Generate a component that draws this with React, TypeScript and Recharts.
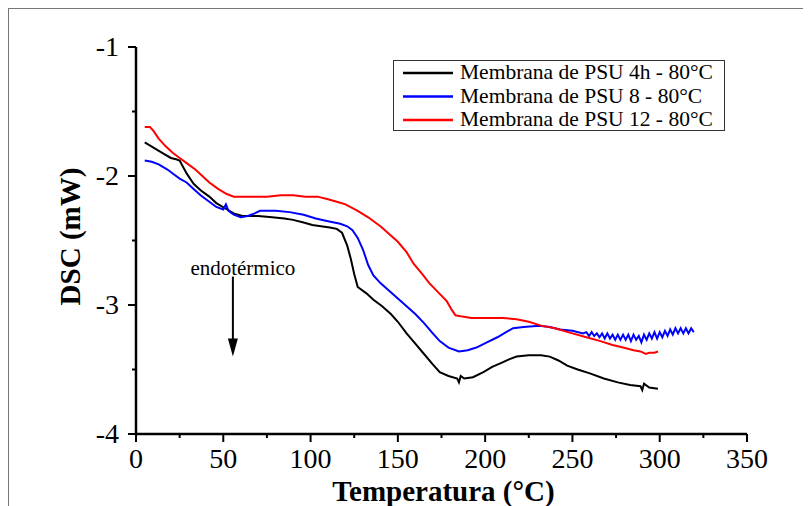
import React from "react";
import { LineChart, Line, XAxis, YAxis, Legend, ReferenceLine } from "recharts";

const FONT = "Liberation Serif, Times New Roman, DejaVu Serif, serif";

const seriesNames = [
  "Membrana de PSU 4h - 80°C",
  "Membrana de PSU 8 - 80°C",
  "Membrana de PSU 12 - 80°C",
];
const seriesColors = ["#000000", "#0000ff", "#ff0000"];

const xTicks = [0, 25, 50, 75, 100, 125, 150, 175, 200, 225, 250, 275, 300, 325, 350];
const yTicks = [-4, -3.5, -3, -2.5, -2, -1.5, -1];

const psu4h: [number, number][] = [
  [5, -1.74], [10, -1.78], [15, -1.82], [20, -1.86], [23, -1.87], [25, -1.88], [29, -1.98],
  [33, -2.06], [37, -2.11], [42, -2.16], [46, -2.21], [51, -2.25], [56, -2.29], [61, -2.31],
  [70, -2.31], [78, -2.32], [85, -2.33], [90, -2.34], [96, -2.36], [101, -2.38], [106, -2.39],
  [111, -2.4], [115, -2.41], [118, -2.44], [121, -2.54], [123, -2.64], [125, -2.76], [127, -2.86],
  [132, -2.91], [136, -2.96], [141, -3.01], [146, -3.07], [150, -3.13], [155, -3.22], [160, -3.3],
  [165, -3.38], [170, -3.46], [174, -3.52], [179, -3.55], [184, -3.57], [185, -3.6], [186, -3.55],
  [188, -3.57], [193, -3.56], [199, -3.52], [204, -3.48], [209, -3.45], [214, -3.42], [218, -3.4],
  [225, -3.39], [232, -3.39], [237, -3.4], [242, -3.43], [247, -3.47], [253, -3.5], [260, -3.53],
  [268, -3.57], [276, -3.6], [283, -3.62], [289, -3.63], [290, -3.66], [291, -3.61], [294, -3.64],
  [299, -3.65],
];

const psu8: [number, number][] = [
  [5, -1.88], [9, -1.89], [13, -1.91], [18, -1.95], [22, -1.99], [25, -2.02], [29, -2.05],
  [33, -2.1], [37, -2.15], [42, -2.2], [46, -2.24], [50, -2.26], [51.5, -2.22], [53, -2.27],
  [56, -2.3], [60, -2.32], [64, -2.31], [68, -2.29], [71, -2.27], [80, -2.27], [88, -2.28],
  [96, -2.3], [103, -2.33], [110, -2.35], [117, -2.37], [121, -2.39], [124, -2.42], [127, -2.48],
  [130, -2.57], [133, -2.69], [136, -2.77], [140, -2.83], [145, -2.89], [150, -2.95], [155, -3.01],
  [160, -3.07], [165, -3.14], [170, -3.22], [174, -3.28], [179, -3.33], [185, -3.36], [190, -3.35],
  [195, -3.33], [201, -3.29], [207, -3.25], [212, -3.21], [216, -3.18], [222, -3.17], [231, -3.16],
  [237, -3.17], [243, -3.19], [250, -3.2], [256, -3.22],
  [258, -3.21], [259.5, -3.24], [261, -3.21], [262.5, -3.24], [264, -3.22], [265.5, -3.25],
  [267, -3.22], [268.5, -3.26], [270, -3.22], [271.5, -3.26], [273, -3.23], [274.5, -3.27],
  [276, -3.23], [277.5, -3.27], [279, -3.23], [280.5, -3.27], [282, -3.23], [283.5, -3.28],
  [285, -3.23], [286.5, -3.27], [288, -3.24], [289.5, -3.29], [291, -3.23], [292.5, -3.27],
  [294, -3.22], [295.5, -3.26], [297, -3.21], [298.5, -3.26], [300, -3.21], [301.5, -3.25],
  [303, -3.2], [304.5, -3.24], [306, -3.19], [307.5, -3.23], [309, -3.18], [310.5, -3.22],
  [312, -3.18], [313.5, -3.22], [315, -3.18], [316.5, -3.22], [318, -3.18], [319.5, -3.21],
];

const psu12: [number, number][] = [
  [5, -1.62], [8, -1.62], [10, -1.65], [13, -1.71], [17, -1.77], [21, -1.82], [25, -1.86],
  [29, -1.9], [34, -1.95], [38, -2.0], [42, -2.05], [47, -2.1], [52, -2.14], [56, -2.16],
  [60, -2.16], [67, -2.16], [75, -2.16], [83, -2.15], [90, -2.15], [97, -2.16], [104, -2.16],
  [110, -2.18], [115, -2.2], [120, -2.22], [127, -2.27], [133, -2.32], [140, -2.39], [145, -2.45],
  [150, -2.51], [155, -2.59], [159, -2.68], [164, -2.76], [168, -2.83], [173, -2.9], [178, -2.97],
  [181, -3.04], [183, -3.08], [187, -3.09], [192, -3.1], [198, -3.1], [204, -3.1], [210, -3.1],
  [218, -3.11], [225, -3.13], [232, -3.16], [240, -3.18], [250, -3.22], [258, -3.25], [266, -3.28],
  [273, -3.31], [279, -3.33], [285, -3.35], [289, -3.36], [292, -3.38], [294, -3.37], [297, -3.37],
  [299, -3.36],
];

const toRows = (arr: [number, number][]) => arr.map(([t, v]) => ({ t, v }));
const seriesData = [toRows(psu4h), toRows(psu8), toRows(psu12)];

const isMajorX = (v: number) => v % 50 === 0;
const isMajorY = (v: number) => Number.isInteger(v);

const txt = (size: number, bold = false): React.CSSProperties => ({
  fontFamily: FONT,
  fontSize: size,
  fontWeight: bold ? 700 : 400,
});

const BottomTick = (props: any) => {
  const { x, y, payload } = props;
  const major = isMajorX(payload.value);
  return (
    <g>
      <line x1={x} y1={y} x2={x} y2={y + (major ? 8 : 4)} stroke="#000" strokeWidth={2} />
      {major && (
        <text x={x} y={y + 34} textAnchor="middle" style={txt(28)} fill="#000">
          {payload.value}
        </text>
      )}
    </g>
  );
};

const TopTick = (props: any) => {
  const { x, y, payload } = props;
  const major = isMajorX(payload.value);
  return <line x1={x} y1={y} x2={x} y2={y + (major ? 5 : 3)} stroke="#000" strokeWidth={1.5} />;
};

const LeftTick = (props: any) => {
  const { x, y, payload } = props;
  const major = isMajorY(payload.value);
  return (
    <g>
      <line x1={x} y1={y} x2={x - (major ? 8 : 4)} y2={y} stroke="#000" strokeWidth={2} />
      {major && (
        <text x={x - 17} y={y + 9} textAnchor="end" style={txt(28)} fill="#000">
          {payload.value}
        </text>
      )}
    </g>
  );
};

const RightTick = (props: any) => {
  const { x, y, payload } = props;
  const major = isMajorY(payload.value);
  return <line x1={x} y1={y} x2={x - (major ? 5 : 3)} y2={y} stroke="#000" strokeWidth={1.5} />;
};

const LegendBox = () => (
  <div
    style={{
      width: 332,
      height: 71,
      boxSizing: "border-box",
      border: "1px solid #333",
      background: "#fff",
    }}
  >
    <svg width={330} height={69}>
      {seriesNames.map((name, i) => {
        const cy = 12 + i * 23.5;
        return (
          <g key={name}>
            <line x1={9} y1={cy} x2={59} y2={cy} stroke={seriesColors[i]} strokeWidth={2.5} />
            <text x={66} y={cy + 6} style={txt(21.5)} fill="#000">
              {name}
            </text>
          </g>
        );
      })}
    </svg>
  </div>
);

const ArrowShape = (p: any) => {
  const { x1, y1, x2, y2 } = p;
  return (
    <g>
      <line x1={x1} y1={y1} x2={x2} y2={y2 - 16} stroke="#000" strokeWidth={2} />
      <polygon points={`${x2 - 5},${y2 - 18} ${x2 + 5},${y2 - 18} ${x2},${y2}`} fill="#000" />
      <text x={x1 + 10} y={y1 - 2} textAnchor="middle" style={txt(21)} fill="#000">
        endotérmico
      </text>
    </g>
  );
};

export default function App() {
  return (
    <div
      style={{
        width: 803,
        height: 498,
        boxSizing: "border-box",
        borderTop: "1px solid #777",
        borderLeft: "1px solid #777",
        background: "#fff",
        fontFamily: FONT,
      }}
    >
      <style>{"html,body{overflow:hidden;background:#fff}"}</style>
      <LineChart
        width={802}
        height={497}
        margin={{ top: 38, right: 64, bottom: 0, left: 0 }}
        style={{ fontFamily: FONT }}
      >
        <XAxis
          dataKey="t"
          type="number"
          domain={[0, 350]}
          ticks={xTicks}
          interval={0}
          allowDataOverflow
          height={72}
          tickSize={0}
          tickMargin={0}
          axisLine={{ stroke: "#000", strokeWidth: 2.5 }}
          tickLine={false}
          tick={<BottomTick />}
          label={(props: any) => {
            const vb = props.viewBox || {};
            return (
              <text
                x={vb.x + vb.width / 2 + 2}
                y={vb.y + 67}
                textAnchor="middle"
                style={txt(29, true)}
                fill="#000"
              >
                Temperatura (°C)
              </text>
            );
          }}
        />
        <XAxis
          xAxisId="top"
          orientation="top"
          dataKey="t"
          type="number"
          domain={[0, 350]}
          ticks={xTicks}
          interval={0}
          height={0}
          tickSize={0}
          tickMargin={0}
          axisLine={{ stroke: "#000", strokeWidth: 2.5 }}
          tickLine={false}
          tick={<TopTick />}
        />
        <YAxis
          type="number"
          domain={[-4, -1]}
          ticks={yTicks}
          interval={0}
          allowDataOverflow
          width={127}
          tickSize={0}
          tickMargin={0}
          axisLine={{ stroke: "#000", strokeWidth: 2.5 }}
          tickLine={false}
          tick={<LeftTick />}
          label={(props: any) => {
            const vb = props.viewBox || {};
            const cx = vb.x + 61;
            const cy = vb.y + vb.height / 2 - 4;
            return (
              <text
                x={cx}
                y={cy}
                transform={`rotate(-90 ${cx} ${cy})`}
                textAnchor="middle"
                dominantBaseline="central"
                style={txt(29, true)}
                fill="#000"
              >
                DSC (mW)
              </text>
            );
          }}
        />
        <YAxis
          yAxisId="right"
          orientation="right"
          type="number"
          domain={[-4, -1]}
          ticks={yTicks}
          interval={0}
          width={0}
          tickSize={0}
          tickMargin={0}
          axisLine={{ stroke: "#000", strokeWidth: 2.5 }}
          tickLine={false}
          tick={<RightTick />}
        />
        {seriesData.map((d, i) => (
          <Line
            key={seriesNames[i]}
            data={d}
            dataKey="v"
            name={seriesNames[i]}
            type="linear"
            stroke={seriesColors[i]}
            strokeWidth={2}
            dot={false}
            activeDot={false}
            isAnimationActive={false}
          />
        ))}
        <ReferenceLine
          segment={[
            { x: 55.5, y: -2.78 },
            { x: 55.5, y: -3.4 },
          ]}
          shape={ArrowShape}
        />
        <Legend
          layout="horizontal"
          verticalAlign="middle"
          align="center"
          content={() => <LegendBox />}
          wrapperStyle={{ position: "absolute", left: 384, top: 51, width: 332, height: 71 }}
        />
      </LineChart>
    </div>
  );
}
